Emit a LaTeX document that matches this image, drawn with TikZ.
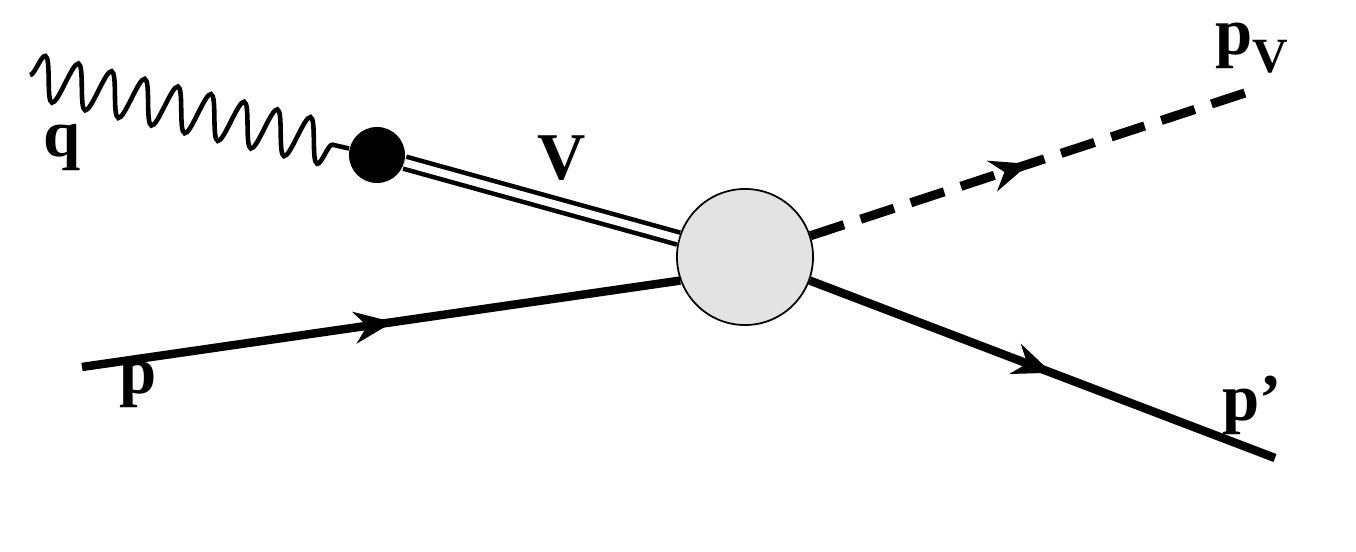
\documentclass[tikz,border=0pt]{standalone}
\usepackage{fontspec}
\setmainfont{Liberation Serif}
\usetikzlibrary{decorations.pathmorphing,decorations.markings,arrows.meta}
\begin{document}
\begin{tikzpicture}[x=0.01cm,y=-0.01cm,
  lbl/.style={font=\fontsize{19}{20}\selectfont\bfseries,inner sep=0},
  arr/.style={decoration={markings,mark=at position #1 with {\arrow{Stealth[length=11pt,width=9pt]}}},postaction=decorate},
  fermion/.style={line width=2.4pt,arr=#1},
  ]
\useasboundingbox (0,0) rectangle (1356,552);
\coordinate (qs) at (30,75);
\node[circle,fill=black,minimum size=0.56cm,inner sep=0] (dot) at (377,155) {};
\node[circle,draw,fill=gray!22,line width=0.5pt,minimum size=1.36cm,inner sep=0] (blob) at (745,257) {};
\coordinate (pin) at (82,367);
\coordinate (pout) at (1275,458);
\coordinate (pv) at (1248,92);
\draw[line width=1.3pt,decorate,decoration={snake,amplitude=0.22cm,segment length=0.34cm}] (qs) -- (dot);
\draw[line width=1.3pt,double distance=2.2pt] (dot) -- (blob);
\draw[fermion=0.52] (pin) -- (blob.200);
\draw[fermion=0.52] (blob.-20) -- (pout);
\draw[line width=2.6pt,dash pattern=on 10pt off 5pt,arr=0.5] (blob.18) -- (pv);
\node[lbl] (lq) at (62,148) {q};
\node[lbl] (lV) at (562,158) {V};
\node[lbl] (lpv) at (1252,48) {p\raisebox{-5pt}{\fontsize{14}{14}\selectfont V}};
\node[lbl] (lp) at (138,385) {p};
\node[lbl] (lpp) at (1252,405) {p\char"0027};
\end{tikzpicture}
\end{document}
